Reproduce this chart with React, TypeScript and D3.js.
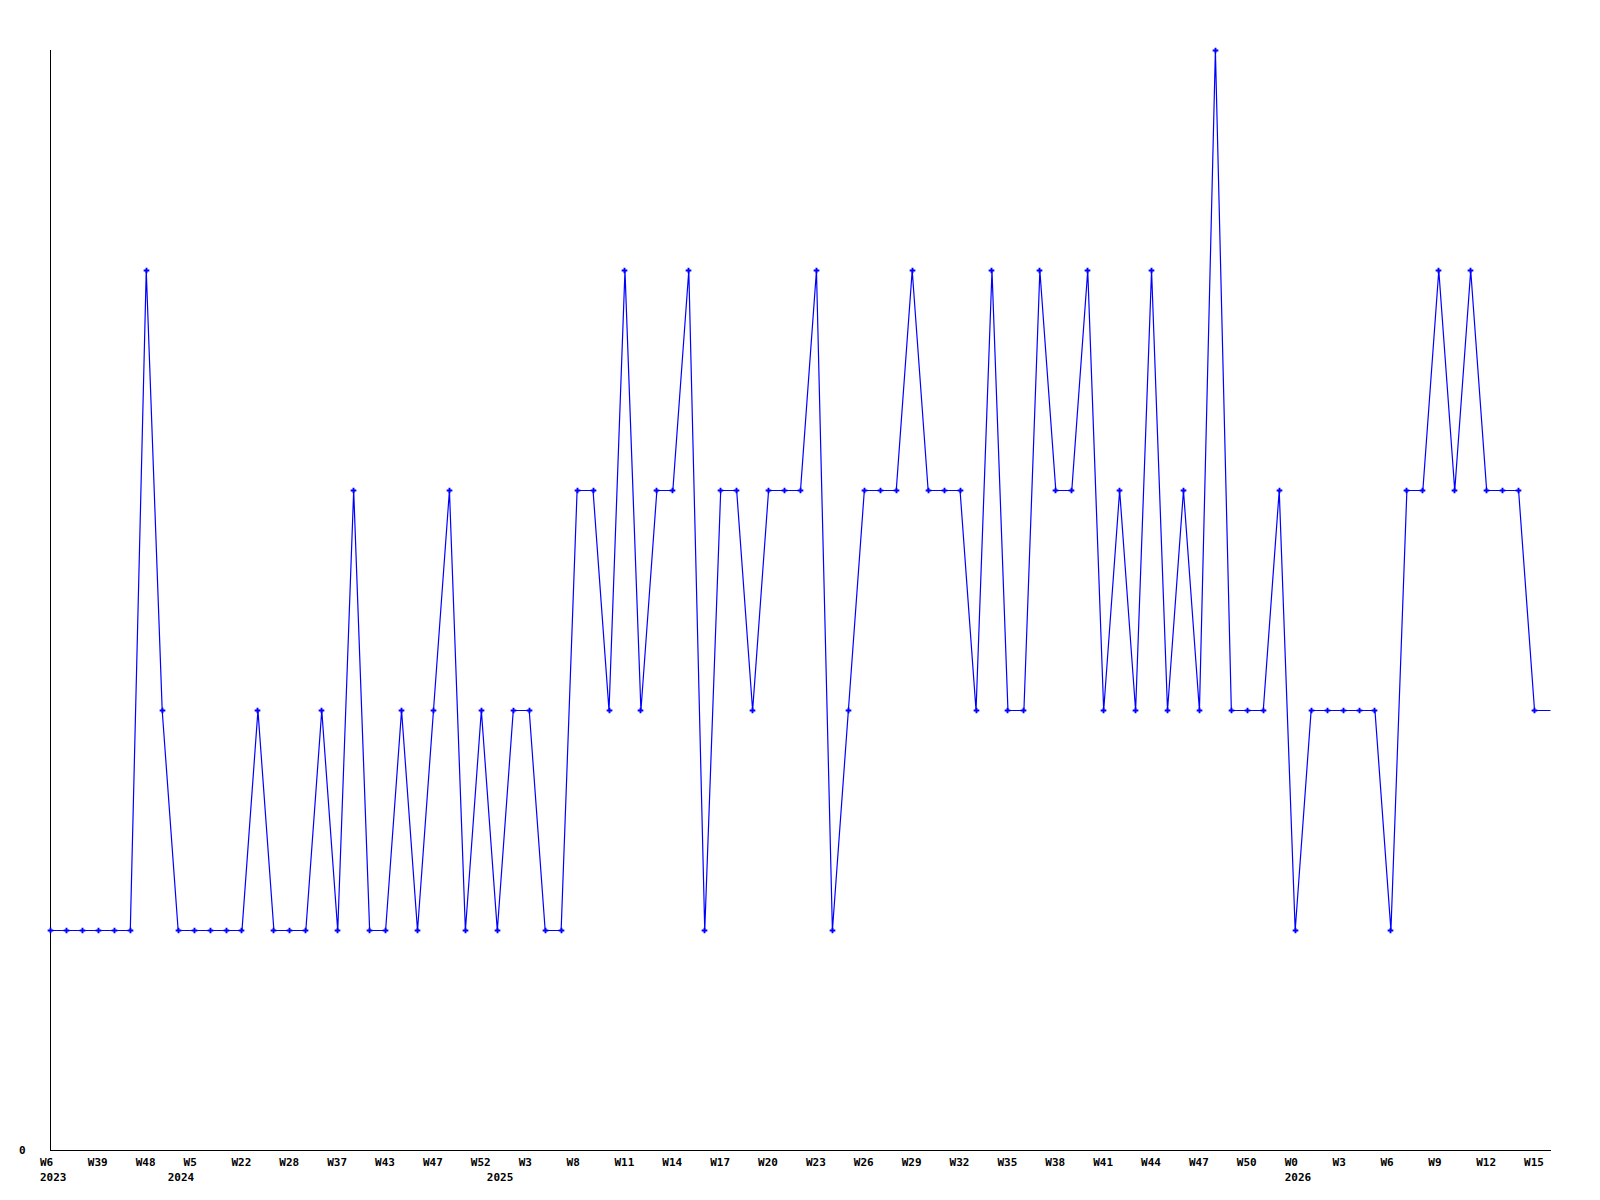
import * as d3 from 'd3'
import { useMemo } from 'react'

// weekly counts, one value per week
const values = [
  1, 1, 1, 1, 1, 1, 4, 2, 1, 1, 1, 1, 1, 2, 1, 1, 1, 2, 1, 3,
  1, 1, 2, 1, 2, 3, 1, 2, 1, 2, 2, 1, 1, 3, 3, 2, 4, 2, 3, 3,
  4, 1, 3, 3, 2, 3, 3, 3, 4, 1, 2, 3, 3, 3, 4, 3, 3, 3, 2, 4,
  2, 2, 4, 3, 3, 4, 2, 3, 2, 4, 2, 3, 2, 5, 2, 2, 2, 3, 1, 2,
  2, 2, 2, 2, 1, 3, 3, 4, 3, 4, 3, 3, 3, 2, 2,
]

// a label every third week
const tickLabels = [
  'W6', 'W39', 'W48', 'W5', 'W22', 'W28', 'W37', 'W43', 'W47', 'W52', 'W3',
  'W8', 'W11', 'W14', 'W17', 'W20', 'W23', 'W26', 'W29', 'W32', 'W35', 'W38',
  'W41', 'W44', 'W47', 'W50', 'W0', 'W3', 'W6', 'W9', 'W12', 'W15',
]
const tickStep = 3

const yearLabels = ['2023', '2024', '2025', '2026']
const yearStartIndex = [0, 8, 28, 78]

const yTickValues = [0]

const width = 1600
const height = 1200
const margin = { top: 50, right: 50, bottom: 50, left: 50 }
const font = '"DejaVu Sans Mono", monospace'

const App = () => {
  const { x, y, linePath, markerPath } = useMemo(() => {
    const x = d3
      .scaleLinear()
      .domain([0, values.length - 1])
      .range([margin.left, width - margin.right])
    const y = d3
      .scaleLinear()
      .domain([0, d3.max(values) ?? 5])
      .range([height - margin.bottom, margin.top])
    const linePath =
      d3
        .line<number>()
        .x((_, i) => x(i))
        .y((d) => y(d))(values) ?? ''
    const markerPath = d3.symbol(d3.symbolCross, 18)() ?? ''
    return { x, y, linePath, markerPath }
  }, [])

  const x0 = margin.left
  const x1 = width - margin.right
  const yBase = height - margin.bottom

  return (
    <svg
      width={width}
      height={height}
      style={{ position: 'absolute', left: 0, top: 0, background: '#fff' }}
      fontFamily={font}
      fontWeight="bold"
      fontSize={11}
    >
      <rect width={width} height={height} fill="#fff" />

      {/* axes */}
      <g shapeRendering="crispEdges" stroke="#000" strokeWidth={1}>
        <line x1={x0 + 0.5} x2={x0 + 0.5} y1={margin.top} y2={yBase + 0.5} />
        <line x1={x0} x2={x1 + 1} y1={yBase + 0.5} y2={yBase + 0.5} />
      </g>

      {yTickValues.map((v) => (
        <text key={v} x={19} y={y(v) + 4} fill="#000">
          {v}
        </text>
      ))}

      {tickLabels.map((label, i) => (
        <text key={i} x={x(i * tickStep) - 10} y={yBase + 16} fill="#000">
          {label}
        </text>
      ))}

      {yearLabels.map((label, i) => (
        <text key={label} x={x(yearStartIndex[i]) - 10} y={yBase + 31} fill="#000">
          {label}
        </text>
      ))}

      {/* series */}
      <g transform="translate(0.5,0.5)">
        <path d={linePath} fill="none" stroke="#0000ff" strokeWidth={1.2} />
        {values.slice(0, values.length - 1).map((v, i) => (
          <path
            key={i}
            d={markerPath}
            transform={`translate(${Math.round(x(i))},${Math.round(y(v))})`}
            fill="#0000ff"
          />
        ))}
      </g>
    </svg>
  )
}

export default App
